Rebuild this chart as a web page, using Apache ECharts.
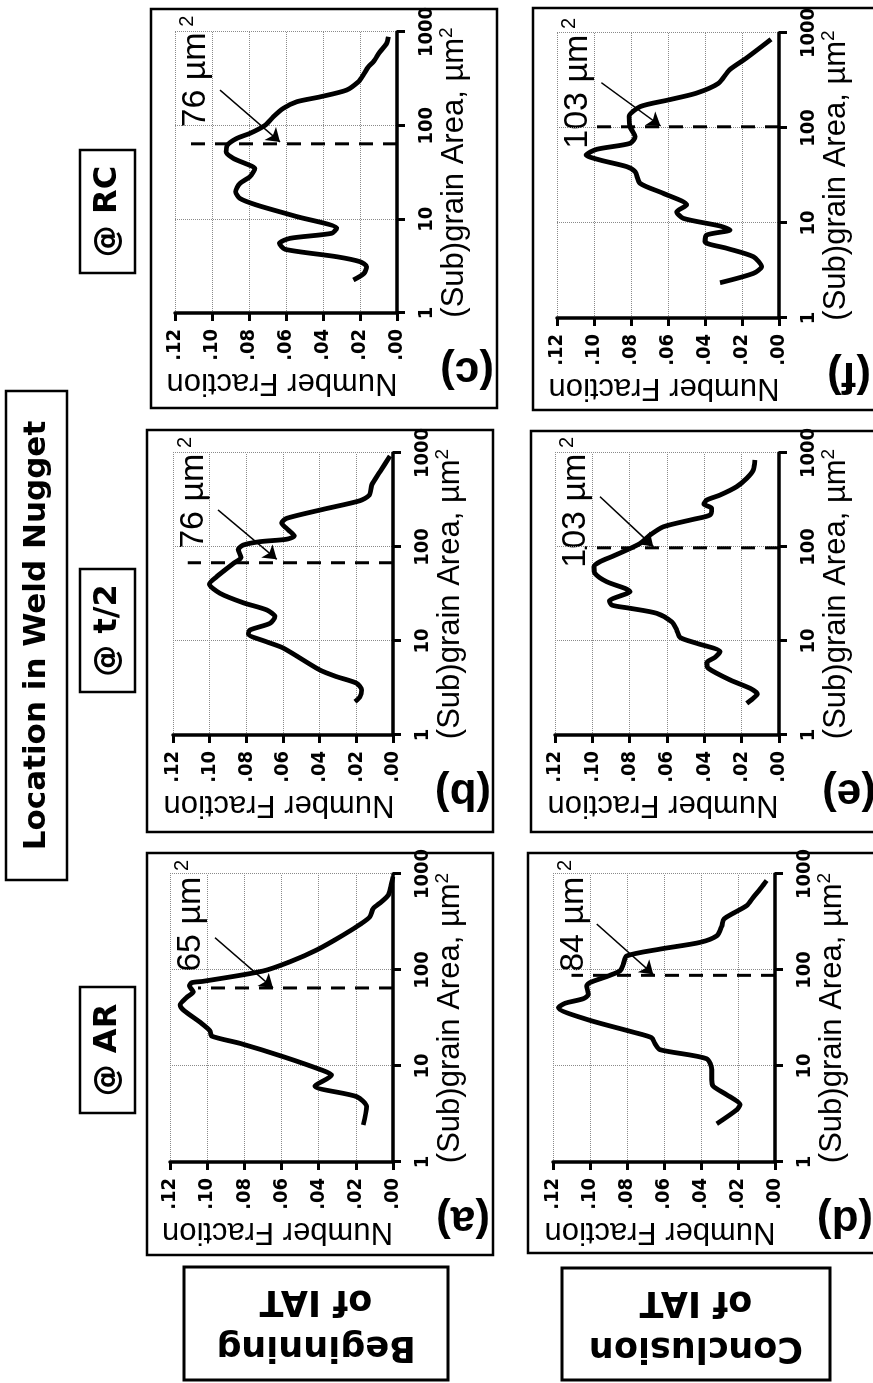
<!DOCTYPE html>
<html>
<head>
<meta charset="utf-8">
<script src="https://cdn.jsdelivr.net/npm/echarts@6/dist/echarts.min.js"></script>
<style>
  html, body { margin: 0; padding: 0; background: #fff; overflow: hidden; }
  #wrap { position: absolute; left: 0; top: 0; width: 873px; height: 1383px; overflow: hidden; background: #fff; }
  /* the figure is laid out landscape and turned a quarter turn to the left, like the scan */
  #chart { position: absolute; left: 0; top: 0; width: 1383px; height: 873px;
           transform-origin: 0 0; transform: translate(0, 1383px) rotate(-90deg); }
</style>
</head>
<body>
<div id="wrap"><div id="chart"></div></div>
<script>
// ---- data ----
const areaTickLabels = ['1', '10', '100', '1000'];
const fracTickLabels = ['.00', '.02', '.04', '.06', '.08', '.10', '.12'];
const columnNames = ['@ AR', '@ t/2', '@ RC'];
const rowNames = ['Beginning\nof IAT', 'Conclusion\nof IAT'];
const panelTags = ['(a)', '(b)', '(c)', '(d)', '(e)', '(f)'];

// (a) beginning of IAT, @AR
const areaA = [2.43, 3.77, 4.79, 6.19, 8.05, 9.08, 12.5, 17.2, 20.5, 23.3, 27.8, 38.3, 43.2, 51.9, 59.4, 68.1, 73.8, 76.3, 97.7, 122, 162, 232, 306, 359, 439, 515, 604, 738, 937];
const fracA = [0.016, 0.0142, 0.0195, 0.042, 0.033, 0.0384, 0.059, 0.0823, 0.0976, 0.0985, 0.103, 0.1128, 0.1146, 0.111, 0.1075, 0.1096, 0.1083, 0.102, 0.0698, 0.0554, 0.041, 0.0267, 0.0169, 0.0124, 0.0106, 0.0061, 0.0025, 0.0012, 0.0];
// (b) beginning of IAT, @t/2
const areaB = [2.26, 2.55, 3.01, 3.55, 4.17, 4.9, 8.4, 9.8, 11.9, 13.1, 15.4, 18.1, 21.4, 25.5, 32.2, 40.4, 48.3, 67, 77.6, 94, 105, 114, 121, 131, 152, 181, 202, 252, 311, 357, 457, 632, 929];
const fracB = [0.0207, 0.018, 0.0171, 0.0198, 0.0307, 0.0398, 0.0598, 0.0689, 0.0789, 0.078, 0.0671, 0.0644, 0.0689, 0.0816, 0.0944, 0.1002, 0.0962, 0.087, 0.0829, 0.0844, 0.0816, 0.0725, 0.058, 0.0538, 0.0571, 0.0607, 0.058, 0.038, 0.018, 0.0129, 0.0116, 0.0071, 0.0016];
// (c) beginning of IAT, @RC
const areaC = [2.25, 2.65, 3.12, 3.53, 3.99, 4.79, 5.54, 6.27, 7.1, 8.0, 10.7, 14.2, 16.7, 19.7, 24.2, 28.5, 35, 38.9, 44.8, 52.6, 62.1, 73.2, 82.8, 101, 124, 153, 180, 203, 240, 294, 347, 425, 481, 615, 755, 889];
const fracC = [0.0236, 0.0178, 0.0164, 0.02, 0.0326, 0.0605, 0.0636, 0.0578, 0.0353, 0.0326, 0.0542, 0.0758, 0.0849, 0.0872, 0.0849, 0.0795, 0.0768, 0.0812, 0.0885, 0.0924, 0.0917, 0.0866, 0.0795, 0.0713, 0.0669, 0.0615, 0.0542, 0.0416, 0.0272, 0.0209, 0.0182, 0.0155, 0.0128, 0.0092, 0.0056, 0.0047];
// (d) conclusion of IAT, @AR
const areaD = [2.5, 3.5, 3.95, 5.02, 6.14, 7.2, 9.17, 11.9, 14.8, 17.1, 19.7, 22.5, 30.6, 40.5, 45, 50.3, 55.8, 68.2, 74, 86.8, 97.9, 115, 140, 165, 194, 227, 285, 340, 399, 469, 573, 729, 855];
const fracD = [0.0315, 0.0207, 0.0189, 0.0261, 0.0333, 0.0342, 0.0342, 0.0369, 0.0622, 0.0649, 0.0667, 0.0766, 0.1018, 0.1171, 0.1135, 0.1036, 0.1009, 0.1018, 0.1, 0.0901, 0.0838, 0.082, 0.0802, 0.0622, 0.0405, 0.0315, 0.0288, 0.0276, 0.0216, 0.0153, 0.0117, 0.0072, 0.0045];
// (e) conclusion of IAT, @t/2
const areaE = [2.17, 2.46, 2.73, 3.14, 3.85, 5.13, 5.88, 6.7, 7.7, 9.45, 10.9, 13.1, 16, 19.7, 22.3, 24.1, 26.8, 30.1, 33.4, 36.3, 42.7, 52.5, 61.7, 69.8, 80.2, 92.9, 109, 134, 164, 197, 219, 258, 286, 316, 357, 438, 538, 659, 843];
const fracE = [0.0173, 0.0138, 0.0116, 0.0155, 0.0262, 0.0379, 0.0387, 0.0343, 0.0316, 0.0441, 0.053, 0.0548, 0.0575, 0.0655, 0.0798, 0.0896, 0.0909, 0.0852, 0.0798, 0.0825, 0.0923, 0.0986, 0.0991, 0.0959, 0.0888, 0.0816, 0.0745, 0.0691, 0.062, 0.0459, 0.037, 0.0361, 0.0402, 0.0387, 0.0316, 0.0227, 0.0173, 0.0138, 0.0129];
// (f) conclusion of IAT, @RC
const areaF = [2.35, 2.95, 3.47, 4.42, 5.42, 6.35, 7.48, 8.44, 9.3, 11.2, 13.1, 15.5, 20.5, 26.2, 34.7, 39.2, 46, 52, 59.7, 69, 81, 103, 132, 168, 197, 232, 295, 408, 542, 859];
const fracF = [0.0319, 0.0139, 0.0094, 0.0139, 0.0283, 0.04, 0.0391, 0.0265, 0.0319, 0.0517, 0.0553, 0.0499, 0.0625, 0.0751, 0.0778, 0.0823, 0.0967, 0.1043, 0.0985, 0.0805, 0.0778, 0.0805, 0.081, 0.075, 0.06, 0.0449, 0.0328, 0.0268, 0.0178, 0.0043];

// mean (sub)grain area markers: dashed line position, its upper end, and the printed value
const markArea = [65, 68, 64, 88, 98, 103];
const markTop = [0.105, 0.112, 0.113, 0.11, 0.104, 0.1005];
const markText = ['65', '76', '76', '84', '103', '103'];
// arrow from the label to the dashed line, [area, fraction]
const arrowFrom = [[217, 0.0958], [248, 0.0955], [240, 0.0957], [301, 0.0964], [343, 0.0959], [300, 0.096]];
const arrowTo = [[65, 0.0646], [74, 0.0634], [67, 0.0632], [90, 0.0658], [101, 0.0673], [105, 0.064]];

const curves = [[areaA, fracA], [areaB, fracB], [areaC, fracC], [areaD, fracD], [areaE, fracE], [areaF, fracF]];

// ---- layout (landscape coordinates, before the quarter turn) ----
const panels = [
  { left: 221, right: 509, top: 170, bottom: 393, box: [128, 147, 530, 493] },
  { left: 648, right: 930, top: 173, bottom: 393, box: [551, 147, 953, 493] },
  { left: 1070, right: 1351, top: 175, bottom: 397, box: [975, 151, 1374, 497] },
  { left: 221, right: 509, top: 553, bottom: 775, box: [130, 528, 530, 880] },
  { left: 648, right: 930, top: 555, bottom: 779, box: [551, 531, 952, 880] },
  { left: 1065, right: 1350, top: 557, bottom: 779, box: [973, 533, 1375, 880] }
];
const colBoxes = [[270, 80, 396, 135], [691, 80, 814, 135], [1110, 80, 1233, 135]];
const rowBoxes = [[3, 184, 116, 448], [3, 562, 115, 830]];
const titleBox = [503, 6, 992, 67];

const fontTick = "'Liberation Sans Narrow','DejaVu Sans Condensed',sans-serif";
const fontReg = "'Liberation Sans',Arial,sans-serif";
const fontHeavy = "'DejaVu Sans',sans-serif";

function pxArea(p, a) { return p.left + Math.log10(a) / 3 * (p.right - p.left); }

const chart = echarts.init(document.getElementById('chart'));

const grid = [], xAxis = [], yAxis = [], series = [], graphic = [];

function rect(b, w) {
  graphic.push({ type: 'rect', silent: true,
    shape: { x: b[0], y: b[1], width: b[2] - b[0], height: b[3] - b[1] },
    style: { fill: 'none', stroke: '#000', lineWidth: w } });
}
function text(x, y, str, style, rot) {
  graphic.push({ type: 'text', silent: true, x: x, y: y, rotation: rot || 0,
    style: Object.assign({ text: str, fill: '#000', align: 'center', verticalAlign: 'middle' }, style) });
}

panels.forEach(function (p, i) {
  grid.push({ left: p.left, top: p.top, width: p.right - p.left, height: p.bottom - p.top, containLabel: false });
  xAxis.push({
    type: 'log', logBase: 10, min: 1, max: 1000, gridIndex: i,
    axisLine: { show: true, lineStyle: { color: '#000', width: 3.5 } },
    axisTick: { show: true, length: 8, lineStyle: { color: '#000', width: 3 } },
    axisLabel: { margin: 20, color: '#000', fontFamily: fontTick, fontWeight: 'bold', fontSize: 20,
      formatter: function (v) { return areaTickLabels[Math.round(Math.log10(v))]; } },
    splitLine: { show: true, lineStyle: { color: '#8a8a8a', type: 'dotted', width: 1 } }
  });
  yAxis.push({
    type: 'value', min: 0, max: 0.12, interval: 0.02, gridIndex: i,
    axisLine: { show: true, lineStyle: { color: '#000', width: 3.5 } },
    axisTick: { show: true, length: 8, lineStyle: { color: '#000', width: 3 } },
    axisLabel: { margin: 16, color: '#000', fontFamily: fontTick, fontWeight: 'bold', fontSize: 20,
      formatter: function (v) { return fracTickLabels[Math.round(v / 0.02)]; } },
    splitLine: { show: true, lineStyle: { color: '#8a8a8a', type: 'dotted', width: 1 } }
  });

  const c = curves[i];
  series.push({
    type: 'line', xAxisIndex: i, yAxisIndex: i, z: 5,
    data: c[0].map(function (a, k) { return [a, c[1][k]]; }),
    smooth: 0.25, symbol: 'none',
    lineStyle: { color: '#000', width: 4.8 }
  });
  series.push({
    type: 'line', xAxisIndex: i, yAxisIndex: i, z: 4,
    data: [[markArea[i], 0], [markArea[i], markTop[i]]],
    symbol: 'none',
    lineStyle: { color: '#000', width: 3, type: [14, 10] },
    markLine: {
      silent: true, symbol: ['none', 'arrow'], symbolSize: 13,
      label: { show: false },
      lineStyle: { color: '#000', width: 1.5, type: 'solid' },
      data: [[{ coord: arrowFrom[i] }, { coord: arrowTo[i] }]]
    }
  });

  rect(p.box, 2.5);
  const cx = (p.left + p.right) / 2, cy = (p.top + p.bottom) / 2;
  text(p.left - 70, cy - 4, 'Number Fraction', { fontFamily: fontReg, fontSize: 31 }, Math.PI / 2);
  text(cx, p.bottom + 57, '{n|(Sub)grain Area, µm}{s|2}', {
    rich: { n: { fontFamily: fontReg, fontSize: 31, lineHeight: 34 },
            s: { fontFamily: fontReg, fontSize: 19, lineHeight: 34, verticalAlign: 'top', padding: [0, 0, 12, 0] } } });
  text(p.left - 57, p.bottom + 70, panelTags[i], { fontFamily: fontReg, fontWeight: 'bold', fontSize: 44 }, Math.PI / 2);
  text(pxArea(p, 100) + 110, p.top + 21, '{n|' + markText[i] + ' µm}{s| 2}', {
    align: 'right',
    rich: { n: { fontFamily: fontReg, fontSize: 34, lineHeight: 38 },
            s: { fontFamily: fontReg, fontSize: 20, lineHeight: 38, verticalAlign: 'top', padding: [0, 0, 14, 0] } } });
});

rect(titleBox, 2.5);
text((titleBox[0] + titleBox[2]) / 2, (titleBox[1] + titleBox[3]) / 2, 'Location in Weld Nugget',
  { fontFamily: fontHeavy, fontWeight: 'bold', fontSize: 31 });
colBoxes.forEach(function (b, i) {
  rect(b, 2.5);
  text((b[0] + b[2]) / 2, (b[1] + b[3]) / 2, columnNames[i], { fontFamily: fontHeavy, fontWeight: 'bold', fontSize: 32 });
});
rowBoxes.forEach(function (b, i) {
  rect(b, 3);
  text((b[0] + b[2]) / 2, (b[1] + b[3]) / 2, rowNames[i],
    { fontFamily: fontHeavy, fontWeight: 'bold', fontSize: 35, lineHeight: 46 }, Math.PI / 2);
});

chart.setOption({
  animation: false,
  backgroundColor: '#fff',
  grid: grid, xAxis: xAxis, yAxis: yAxis, series: series,
  graphic: { elements: graphic }
});
</script>
</body>
</html>
